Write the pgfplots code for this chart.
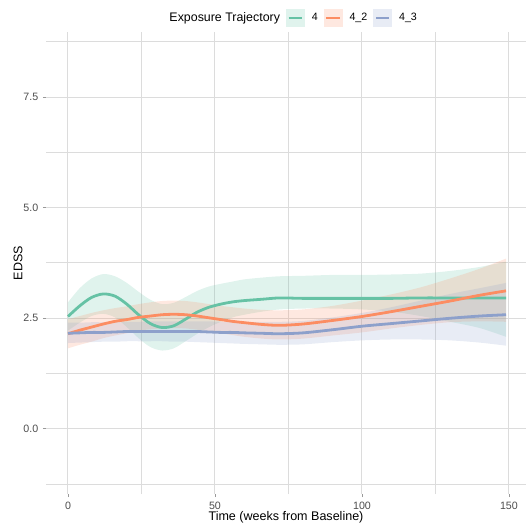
\documentclass[border=0pt]{standalone}
\usepackage{pgfplots}
\pgfplotsset{compat=1.18}
\usepackage{pgfplotstable}
\usepgfplotslibrary{fillbetween}
\usepackage{fontspec}
\setmainfont{Liberation Sans}
\definecolor{cg}{HTML}{66C2A5}
\definecolor{co}{HTML}{FC8D62}
\definecolor{cb}{HTML}{8DA0CB}
\definecolor{gridc}{HTML}{DCDCDC}
\definecolor{txt}{HTML}{4D4D4D}
\definecolor{tickc}{HTML}{999999}

% group 4
\pgfplotstableread{
x y lo hi
0 2.54 2.22 2.86
4 2.78 2.40 3.18
8 2.97 2.55 3.40
12 3.05 2.60 3.50
16 3.00 2.52 3.45
20 2.82 2.30 3.30
24 2.58 2.05 3.10
28 2.38 1.85 2.92
32 2.29 1.77 2.82
36 2.33 1.82 2.85
40 2.48 1.98 2.98
44 2.64 2.15 3.12
48 2.75 2.30 3.22
52 2.82 2.42 3.28
56 2.87 2.52 3.33
60 2.90 2.58 3.38
66 2.93 2.65 3.42
72 2.96 2.70 3.45
80 2.95 2.72 3.46
90 2.95 2.72 3.48
100 2.95 2.70 3.48
110 2.95 2.65 3.49
120 2.96 2.55 3.51
130 2.96 2.42 3.57
140 2.96 2.28 3.66
149 2.96 2.08 3.78
}\tabG

% group 4_2
\pgfplotstableread{
x y lo hi
0 2.15 1.82 2.48
4 2.23 1.90 2.55
8 2.30 1.97 2.62
12 2.37 2.05 2.68
16 2.43 2.11 2.73
20 2.47 2.16 2.77
24 2.52 2.22 2.82
28 2.55 2.25 2.86
32 2.58 2.27 2.89
36 2.59 2.28 2.90
40 2.58 2.27 2.89
44 2.55 2.24 2.86
48 2.51 2.20 2.82
52 2.47 2.16 2.78
56 2.43 2.12 2.75
60 2.40 2.08 2.72
66 2.36 2.04 2.69
72 2.34 2.02 2.68
80 2.37 2.04 2.70
90 2.45 2.11 2.78
100 2.54 2.18 2.90
110 2.65 2.27 3.04
120 2.77 2.35 3.20
130 2.89 2.41 3.40
140 3.02 2.43 3.62
149 3.12 2.42 3.85
}\tabO

% group 4_3
\pgfplotstableread{
x y lo hi
0 2.16 1.94 2.40
4 2.17 1.95 2.40
8 2.18 1.96 2.41
12 2.18 1.97 2.41
16 2.19 1.97 2.42
20 2.20 1.98 2.42
24 2.20 1.98 2.42
28 2.20 1.98 2.43
32 2.20 1.98 2.43
36 2.20 1.97 2.43
40 2.20 1.97 2.43
44 2.20 1.96 2.43
48 2.19 1.95 2.43
52 2.18 1.94 2.42
56 2.18 1.93 2.42
60 2.17 1.92 2.42
66 2.16 1.91 2.42
72 2.15 1.90 2.42
80 2.17 1.91 2.44
90 2.24 1.96 2.52
100 2.32 2.00 2.62
110 2.38 2.02 2.75
120 2.44 2.02 2.90
130 2.50 2.00 3.05
140 2.55 1.95 3.18
149 2.58 1.88 3.30
}\tabB

\begin{document}
\begin{tikzpicture}
\begin{axis}[
  at={(0pt,0pt)}, anchor=south west,
  scale only axis, width=360pt, height=346.5pt,
  xmin=-7.48, xmax=155.8, ymin=-1.475, ymax=8.975,
  axis line style={draw=none},
  tick pos=left, tick align=outside,
  major tick length=2.3pt, minor tick length=0pt,
  tick style={tickc, line width=0.6pt},
  xtick={0,50,100,150}, minor xtick={25,75,125},
  ytick={0,2.5,5,7.5}, minor ytick={-1.25,1.25,3.75,6.25,8.75},
  grid=both,
  major grid style={gridc, line width=0.75pt},
  minor grid style={gridc, line width=0.75pt},
  /pgf/number format/assume math mode=true,
  ticklabel style={font=\fontsize{8}{9.6}\selectfont, text=txt},
  yticklabel style={/pgf/number format/.cd, fixed, fixed zerofill, precision=1},
  xticklabel style={/pgf/number format/fixed},
  xlabel={Time (weeks from Baseline)},
  ylabel={EDSS},
  label style={font=\fontsize{9.4}{11}\selectfont, text=black},
  xlabel style={at={(axis description cs:0.5,-0.0498)}, anchor=center},
  ylabel style={at={(axis description cs:-0.0583,0.5)}, anchor=center},
  legend columns=-1,
  legend style={draw=none, fill=none, at={(axis description cs:0.5077,1.0305)}, anchor=center,
    font=\fontsize{8}{9.6}\selectfont,
    nodes={inner xsep=0pt, inner ysep=1pt},
    /tikz/every even column/.append style={column sep=4.5pt},
    /tikz/every odd column/.append style={column sep=5.25pt}},
]
\addlegendimage{empty legend}
\addlegendentry{\fontsize{9.3}{11}\selectfont Exposure Trajectory}

% group 4
\addplot[name path=gU, draw=none, smooth, forget plot] table[x=x,y=hi]{\tabG};
\addplot[name path=gL, draw=none, smooth, forget plot] table[x=x,y=lo]{\tabG};
\addplot[cg, fill opacity=0.2, draw=none, forget plot] fill between[of=gU and gL];
\addplot[cg, line width=2.1pt, smooth,
  legend image code/.code={\fill[cg!20] (0pt,-6pt) rectangle (12pt,6pt); \draw[cg, line width=2.1pt] (1pt,0pt) -- (11pt,0pt);}]
  table[x=x,y=y]{\tabG};
\addlegendentry{4}

% group 4_2
\addplot[name path=oU, draw=none, smooth, forget plot] table[x=x,y=hi]{\tabO};
\addplot[name path=oL, draw=none, smooth, forget plot] table[x=x,y=lo]{\tabO};
\addplot[co, fill opacity=0.2, draw=none, forget plot] fill between[of=oU and oL];
\addplot[co, line width=2.1pt, smooth,
  legend image code/.code={\fill[co!20] (0pt,-6pt) rectangle (12pt,6pt); \draw[co, line width=2.1pt] (1pt,0pt) -- (11pt,0pt);}]
  table[x=x,y=y]{\tabO};
\addlegendentry{4\_2}

% group 4_3
\addplot[name path=bU, draw=none, smooth, forget plot] table[x=x,y=hi]{\tabB};
\addplot[name path=bL, draw=none, smooth, forget plot] table[x=x,y=lo]{\tabB};
\addplot[cb, fill opacity=0.2, draw=none, forget plot] fill between[of=bU and bL];
\addplot[cb, line width=2.1pt, smooth,
  legend image code/.code={\fill[cb!20] (0pt,-6pt) rectangle (12pt,6pt); \draw[cb, line width=2.1pt] (1pt,0pt) -- (11pt,0pt);}]
  table[x=x,y=y]{\tabB};
\addlegendentry{4\_3}
\end{axis}
\pgfresetboundingbox
\useasboundingbox (-34.5pt,-24.75pt) rectangle (360pt,370.5pt);
\end{tikzpicture}
\end{document}
